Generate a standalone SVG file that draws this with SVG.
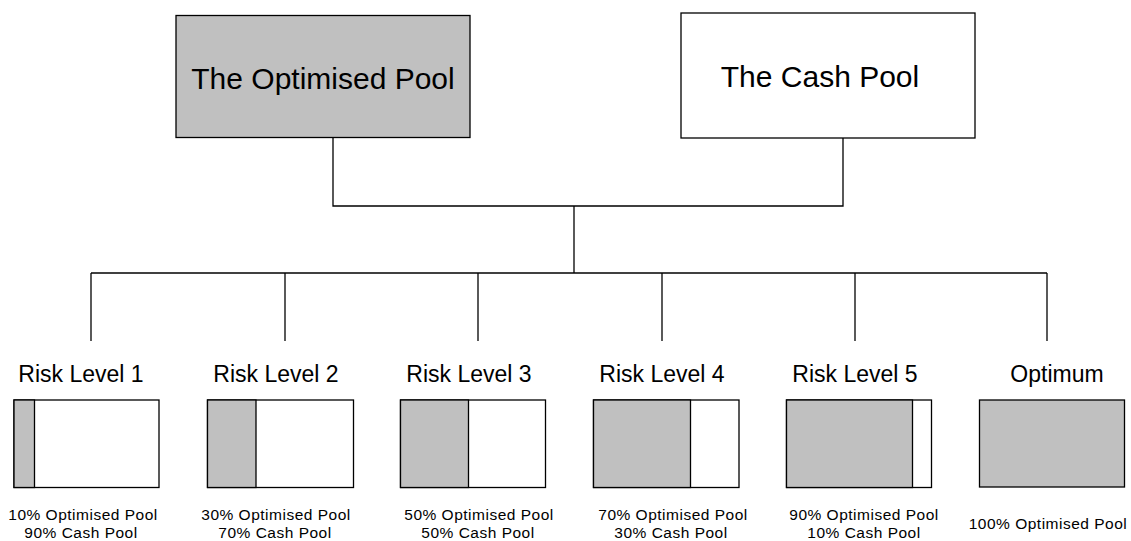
<svg xmlns="http://www.w3.org/2000/svg" width="1131" height="541" viewBox="0 0 1131 541">
<style>
.box{stroke:#000;stroke-width:1.3;fill:#fff}
.g{fill:#c0c0c0;stroke:#000;stroke-width:1.3}
.big{font-family:"Liberation Sans",Arial,sans-serif;font-size:30px;fill:#000;text-anchor:middle}
.title{font-family:"Liberation Sans",Arial,sans-serif;font-size:23px;fill:#000;text-anchor:middle}
.lbl{font-family:"Liberation Sans",Arial,sans-serif;font-size:15.5px;letter-spacing:0.5px;fill:#000;text-anchor:middle}
.conn{stroke:#000;stroke-width:1.3;fill:none}
</style>
<rect width="1131" height="541" fill="#fff"/>
<g id="connectors">
<polyline class="conn" points="333,137 333,206 843,206 843,138"/>
<line class="conn" x1="574" y1="206" x2="574" y2="273"/>
<line class="conn" x1="91" y1="273" x2="1047" y2="273"/>
<line class="conn" x1="91" y1="273" x2="91" y2="341"/>
<line class="conn" x1="285" y1="273" x2="285" y2="341"/>
<line class="conn" x1="478" y1="273" x2="478" y2="341"/>
<line class="conn" x1="662" y1="273" x2="662" y2="341"/>
<line class="conn" x1="855" y1="273" x2="855" y2="341"/>
<line class="conn" x1="1047" y1="273" x2="1047" y2="341"/>
</g>
<g id="optimised-pool">
<rect class="g" x="176" y="15.5" width="294" height="122"/>
<text class="big" x="323" y="89">The Optimised Pool</text>
</g>
<g id="cash-pool">
<rect class="box" x="681" y="13" width="294" height="125"/>
<text class="big" x="820" y="87">The Cash Pool</text>
</g>
<g id="risk1">
<text class="title" x="81" y="381.5">Risk Level 1</text>
<rect class="box" x="14" y="400" width="145" height="87.5"/>
<rect class="g" x="14" y="400" width="20.5" height="87.5"/>
<text class="lbl" x="83" y="520">10% Optimised Pool</text>
<text class="lbl" x="81" y="538">90% Cash Pool</text>
</g>
<g id="risk2">
<text class="title" x="276" y="381.5">Risk Level 2</text>
<rect class="box" x="207.5" y="400" width="146" height="87.5"/>
<rect class="g" x="207.5" y="400" width="48.5" height="87.5"/>
<text class="lbl" x="276" y="520">30% Optimised Pool</text>
<text class="lbl" x="275" y="538">70% Cash Pool</text>
</g>
<g id="risk3">
<text class="title" x="469" y="381.5">Risk Level 3</text>
<rect class="box" x="400.5" y="400" width="145" height="87.5"/>
<rect class="g" x="400.5" y="400" width="68" height="87.5"/>
<text class="lbl" x="479" y="520">50% Optimised Pool</text>
<text class="lbl" x="478" y="538">50% Cash Pool</text>
</g>
<g id="risk4">
<text class="title" x="662" y="381.5">Risk Level 4</text>
<rect class="box" x="593.5" y="400" width="145.5" height="87.5"/>
<rect class="g" x="593.5" y="400" width="97" height="87.5"/>
<text class="lbl" x="673" y="520">70% Optimised Pool</text>
<text class="lbl" x="671" y="538">30% Cash Pool</text>
</g>
<g id="risk5">
<text class="title" x="855" y="381.5">Risk Level 5</text>
<rect class="box" x="786.5" y="400" width="145" height="87.5"/>
<rect class="g" x="786.5" y="400" width="126" height="87.5"/>
<text class="lbl" x="864" y="520">90% Optimised Pool</text>
<text class="lbl" x="864" y="538">10% Cash Pool</text>
</g>
<g id="optimum">
<text class="title" x="1057" y="381.5">Optimum</text>
<rect class="g" x="979.5" y="400" width="145" height="87"/>
<text class="lbl" x="1048" y="528.5">100% Optimised Pool</text>
</g>
</svg>
